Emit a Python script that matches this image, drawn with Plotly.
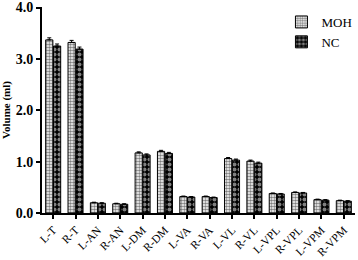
import plotly.graph_objects as go

categories = ["L-T", "R-T", "L-AN", "R-AN", "L-DM", "R-DM", "L-VA", "R-VA",
              "L-VL", "R-VL", "L-VPL", "R-VPL", "L-VPM", "R-VPM"]
moh = [3.37, 3.32, 0.20, 0.18, 1.17, 1.20, 0.32, 0.32, 1.06, 1.01, 0.38, 0.40, 0.26, 0.24]
nc = [3.25, 3.19, 0.19, 0.17, 1.13, 1.16, 0.31, 0.30, 1.03, 0.97, 0.37, 0.39, 0.25, 0.23]
moh_err = [0.04, 0.04, 0.01, 0.01, 0.02, 0.02, 0.01, 0.01, 0.02, 0.02, 0.01, 0.01, 0.01, 0.01]
nc_err = [0.04, 0.04, 0.01, 0.01, 0.02, 0.02, 0.01, 0.01, 0.02, 0.02, 0.01, 0.01, 0.01, 0.01]
y_ticks = [0, 1, 2, 3, 4]
y_tick_labels = ["0.0", "1.0", "2.0", "3.0", "4.0"]

serif = "Liberation Serif, Times New Roman, serif"

fig = go.Figure()
fig.add_trace(go.Bar(
    name="MOH", x=categories, y=moh,
    error_y=dict(type="data", array=moh_err, color="black", thickness=1, width=2, symmetric=False, arrayminus=[0]*len(moh_err)),
    marker=dict(color="white", line=dict(color="black", width=1),
                pattern=dict(shape=".", fgcolor="black", bgcolor="white", size=3, solidity=0.55)),
))
fig.add_trace(go.Bar(
    name="NC", x=categories, y=nc,
    error_y=dict(type="data", array=nc_err, color="black", thickness=1, width=2, symmetric=False, arrayminus=[0]*len(nc_err)),
    marker=dict(color="black", line=dict(color="black", width=1),
                pattern=dict(shape=".", fgcolor="white", bgcolor="black", size=5, solidity=0.5)),
))

fig.update_layout(
    width=358, height=260,
    margin=dict(l=42, r=3, t=7, b=47, pad=0, autoexpand=False),
    paper_bgcolor="white", plot_bgcolor="white",
    barmode="group", bargap=0.3, bargroupgap=0.08,
    showlegend=True,
    legend=dict(x=0.765, y=1.0, xanchor="left", yanchor="top",
                font=dict(family=serif, size=13, color="black"),
                bgcolor="rgba(0,0,0,0)", tracegroupgap=2, itemwidth=30),
    font=dict(family=serif, color="black"),
)
fig.update_xaxes(
    showline=True, linecolor="black", linewidth=2, automargin=False,
    ticks="outside", ticklen=4, tickwidth=1.5, tickcolor="black",
    tickangle=-45, tickfont=dict(family=serif, size=11.5, color="black"),
    showgrid=False, range=[-0.5, 13.5],
)
fig.update_yaxes(
    range=[0, 4.01], tickvals=y_ticks, ticktext=y_tick_labels, automargin=False,
    showline=True, linecolor="black", linewidth=2,
    ticks="outside", ticklen=4, tickwidth=1.5, tickcolor="black",
    tickfont=dict(family=serif, size=14, color="black", weight="bold"),
    title=dict(text="<b>Volume (ml)</b>", font=dict(family=serif, size=11, color="black"), standoff=4),
    showgrid=False, zeroline=False,
)

fig.write_html("out.html", config={"displayModeBar": False},
               post_script="document.body.style.margin='0';document.body.style.overflow='hidden';")
